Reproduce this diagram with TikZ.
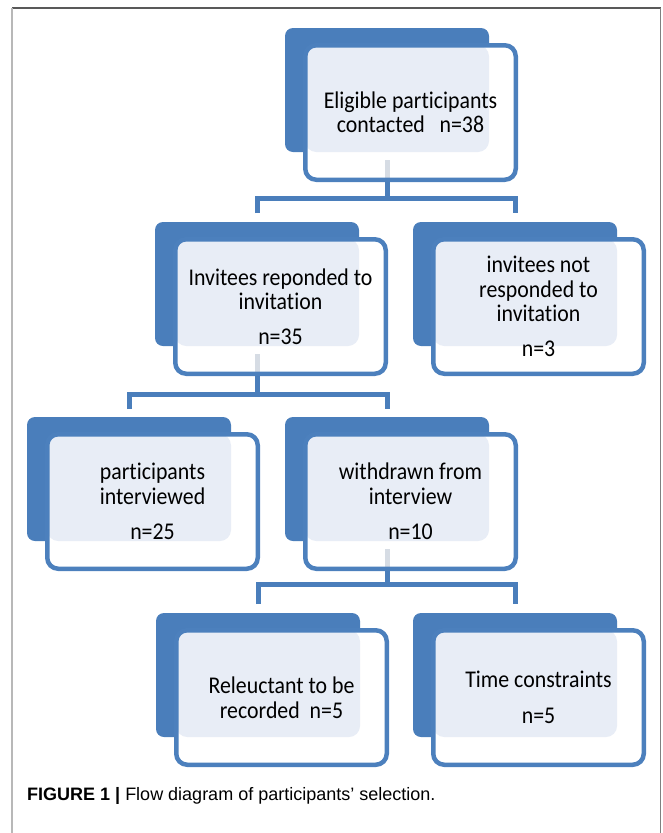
\documentclass[tikz,border=0pt]{standalone}
\usepackage{fontspec}
\setmainfont[Ligatures={NoCommon},FakeStretch=0.91]{Carlito}
\newfontfamily\capfont{Liberation Sans}
\usetikzlibrary{calc}
\definecolor{bblue}{RGB}{74,126,187}
\definecolor{fblue}{RGB}{76,128,189}
\definecolor{lightfill}{RGB}{232,237,246}
\definecolor{stubgray}{RGB}{214,220,228}
\tikzset{
  backbox/.style={fill=bblue, rounded corners=8pt, minimum width=204pt, minimum height=124pt, inner sep=0pt, outer sep=0pt, anchor=north west},
  frontbox/.style={draw=fblue, line width=4.5pt, rounded corners=11pt, minimum width=210.5pt, minimum height=134.5pt, inner sep=0pt, align=center, font=\fontsize{24pt}{24.5pt}\selectfont},
  conn/.style={draw=bblue, line width=5pt},
  stubline/.style={draw=stubgray, line width=5pt},
}
% #1 name, #2 x, #3 y, #4 text, #5 stub (1 = draw the faint stub)
\newcommand\grp[5]{%
  \node[backbox] (#1b) at (#2,#3) {};
  \fill[white, rounded corners=11pt] ([shift={(20.25,17.25)}]#1b.north west) rectangle ([shift={(230.75,151.75)}]#1b.north west);
  \fill[lightfill, rounded corners=11pt] ([shift={(20.25,17.25)}]#1b.north west) rectangle (#1b.south east);
  \ifnum#5=1 \draw[stubline] ([yshift=-8pt]#1b.south) -- ([yshift=-27pt]#1b.south);\fi
  \node[frontbox] (#1) at ([shift={(125.5,84.5)}]#1b.north west) {#4};
}
\begin{document}
\begin{tikzpicture}[x=1pt,y=-1pt]
\useasboundingbox (0,0) rectangle (662,833);
% frame
\draw[line width=1.5pt, color=black!65] (12,8) -- (661,8);
\draw[line width=2pt, color=black!28] (12,8) -- (12,833);
\draw[line width=1.5pt, color=black!50] (660.5,8) -- (660.5,833);
% boxes
\grp{E}{285}{28}{Eligible participants\\contacted\ \ \ n=38}{1}
\grp{I}{155}{222}{Invitees reponded to\\invitation\\[10pt]n=35}{1}
\grp{N}{413}{222}{invitees not\\responded to\\invitation\\[10pt]n=3}{0}
\grp{P}{27}{417}{participants\\interviewed\\[11pt]n=25}{0}
\grp{W}{285}{417}{withdrawn from\\interview\\[11pt]n=10}{1}
\grp{R}{156}{613}{Releuctant to be\\recorded\ \ n=5}{0}
\grp{T}{413}{613}{Time constraints\\[11pt]n=5}{0}
% junctions
\coordinate (j1) at ($(Eb.south |- E.south)+(0,16)$);
\coordinate (j2) at ($(Ib.south |- I.south)+(0,18)$);
\coordinate (j3) at ($(Wb.south |- W.south)+(0,13)$);
% connectors
\draw[conn] (Eb.south |- E.south) -- (j1);
\draw[conn] ([yshift=9pt]Ib.north) |- (j1) -| ([yshift=9pt]Nb.north);
\draw[conn] (Ib.south |- I.south) -- (j2);
\draw[conn] ([yshift=8pt]Pb.north) |- (j2) -| ([yshift=8pt]Wb.north);
\draw[conn] (Wb.south |- W.south) -- (j3);
\draw[conn] ([yshift=9pt]Rb.north) |- (j3) -| ([yshift=9pt]Tb.north);
% caption
\node[anchor=base west, inner sep=0pt, font=\capfont\fontsize{18pt}{20pt}\selectfont] (cap) at (27,800) {\textbf{FIGURE 1} \textbf{|} Flow diagram of participants’ selection.};
\end{tikzpicture}
\end{document}
